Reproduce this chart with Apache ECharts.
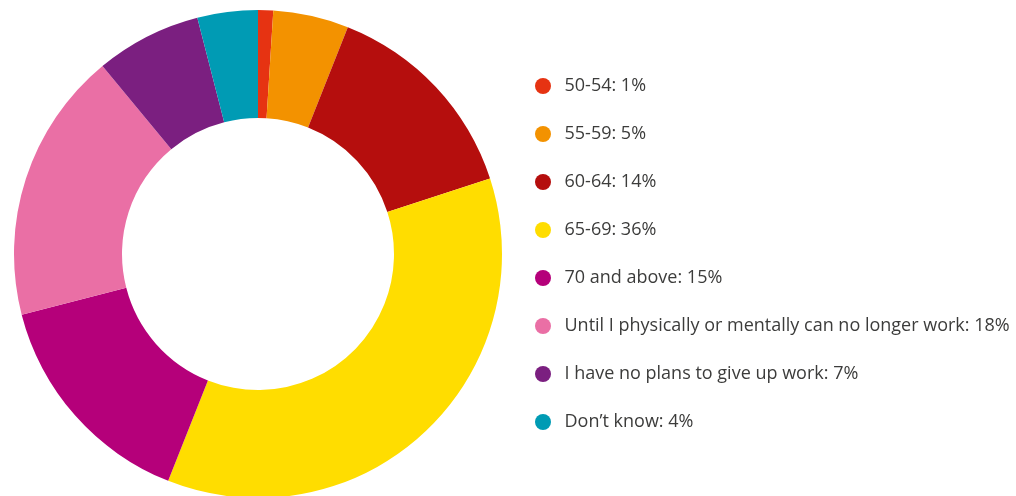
<!DOCTYPE html>
<html>
<head>
<meta charset="utf-8">
<script src="https://cdn.jsdelivr.net/npm/echarts@6/dist/echarts.min.js"></script>
<style>
  html, body { margin: 0; padding: 0; background: #ffffff; }
  #chart { width: 1016px; height: 496px; }
</style>
</head>
<body>
<div id="chart"></div>
<script>
// Retirement age plans (share of respondents, %)
const categories = [
  '50-54',
  '55-59',
  '60-64',
  '65-69',
  '70 and above',
  'Until I physically or mentally can no longer work',
  'I have no plans to give up work',
  'Don\u2019t know'
];
const shares = [1, 5, 14, 36, 15, 18, 7, 4];
const colors = ['#e63312', '#f39200', '#b50e0d', '#ffdd00', '#b5007a', '#ea6fa5', '#7b1f80', '#009bb4'];

const shareByName = {};
categories.forEach((c, i) => { shareByName[c] = shares[i]; });

const chart = echarts.init(document.getElementById('chart'), null, { renderer: 'canvas' });
chart.setOption({
  animation: false,
  color: colors,
  legend: {
    orient: 'vertical',
    left: 530,
    top: 71,
    icon: 'circle',
    itemWidth: 33,
    itemHeight: 16,
    itemGap: 28,
    selectedMode: false,
    data: categories,
    formatter: name => name + ': ' + shareByName[name] + '%',
    textStyle: {
      fontFamily: 'Open Sans',
      fontSize: 18,
      lineHeight: 20,
      color: '#3c3c3b'
    }
  },
  series: [{
    type: 'pie',
    center: [258, 254],
    radius: [136, 244],
    startAngle: 90,
    clockwise: true,
    silent: true,
    label: { show: false },
    labelLine: { show: false },
    itemStyle: { borderWidth: 0 },
    data: categories.map((c, i) => ({ name: c, value: shares[i] }))
  }]
});
</script>
</body>
</html>
